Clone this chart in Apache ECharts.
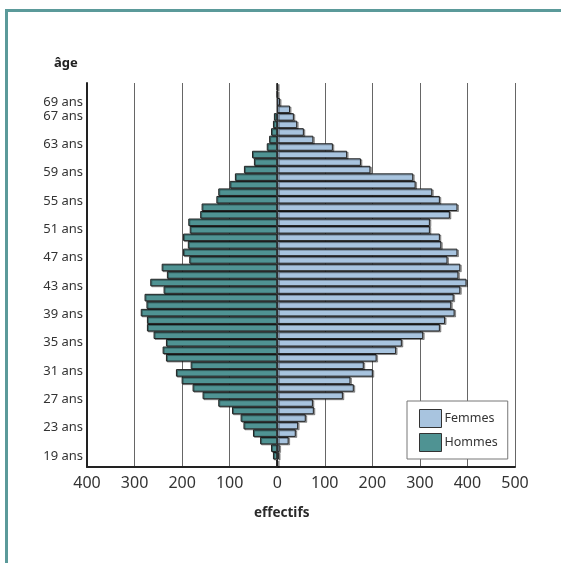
<!DOCTYPE html>
<html>
<head>
<meta charset="utf-8">
<script src="https://cdn.jsdelivr.net/npm/echarts@6/dist/echarts.min.js"></script>
<style>
  html, body { margin: 0; padding: 0; background: #fff; }
  #frame { position: absolute; left: 5px; top: 9px; width: 556px; height: 554px;
           border-top: 3px solid #5b9a9a; border-left: 3px solid #5b9a9a; box-sizing: border-box; }
  #chart { position: absolute; left: 0; top: 0; width: 561px; height: 563px; }
</style>
</head>
<body>
<div id="frame"></div>
<div id="chart"></div>
<script>
// Ages (bottom to top)
const ages = [];
for (let a = 19; a <= 69; a++) ages.push(a + ' ans');

// Hommes (men) counts per age 19..69
const hommes = [2, 9, 13, 36, 51, 71, 77, 95, 124, 157,
                178, 201, 213, 182, 234, 241, 234, 260, 274, 274,
                287, 275, 279, 239, 267, 232, 243, 185, 198, 188,
                198, 184, 187, 162, 159, 128, 124, 100, 89, 70,
                49, 53, 22, 17, 13, 9, 7, 0, 0, 1,
                1];
// Femmes (women) counts per age 19..69
const femmes = [1, 4, 5, 24, 39, 44, 60, 77, 75, 138,
                161, 154, 201, 182, 209, 250, 262, 307, 342, 353,
                373, 366, 371, 385, 398, 381, 385, 358, 379, 345,
                342, 321, 321, 363, 379, 342, 326, 291, 286, 196,
                176, 147, 117, 76, 56, 42, 35, 27, 6, 1,
                1];

// Age tick labels shown on the vertical axis
const ageTicks = [19, 23, 27, 31, 35, 39, 43, 47, 51, 55, 59, 63, 67, 69];
const xTicks = { min: -400, max: 500, interval: 100 };

const chart = echarts.init(document.getElementById('chart'), null, { renderer: 'canvas' });
const font = 'Noto Sans';
const option = {
  backgroundColor: 'transparent',
  animation: false,
  title: [
    { text: 'âge', left: 49, top: 52,
      textStyle: { fontFamily: font, fontSize: 13, fontWeight: 'bold', color: '#222' } },
    { text: 'effectifs', left: 249, top: 501,
      textStyle: { fontFamily: font, fontSize: 13.5, fontWeight: 'bold', color: '#2a2a2a' } }
  ],
  legend: {
    data: ['Femmes', 'Hommes'],
    orient: 'vertical',
    left: 407, top: 401,
    icon: 'rect',
    itemWidth: 22, itemHeight: 18, itemGap: 5,
    padding: [8, 10, 7, 12],
    backgroundColor: '#fff',
    borderColor: '#777', borderWidth: 1,
    itemStyle: { borderColor: '#333', borderWidth: 1 },
    textStyle: { fontFamily: font, fontSize: 12.5, color: '#333', padding: [0, 0, 0, -2] }
  },
  grid: { left: 87, right: 46, top: 83, bottom: 96, containLabel: false },
  xAxis: {
    type: 'value', min: xTicks.min, max: xTicks.max, interval: xTicks.interval,
    axisLine: { show: true, onZero: false, lineStyle: { color: '#222', width: 2 } },
    axisTick: { show: false },
    axisLabel: { formatter: v => String(Math.abs(v)), fontFamily: font, fontSize: 16, color: '#333', margin: 8 },
    splitLine: { show: true, lineStyle: { color: '#666', width: 1 } }
  },
  yAxis: [
    {
      type: 'category', data: ages,
      axisLine: { show: true, onZero: false, lineStyle: { color: '#222', width: 2 } },
      axisTick: { show: false },
      axisLabel: { show: false },
      splitLine: { show: false }
    },
    {
      type: 'value', position: 'left', min: 17.45, max: 71.68,
      axisLine: { show: false, onZero: false },
      axisTick: { show: false },
      splitLine: { show: false },
      axisLabel: { customValues: ageTicks, formatter: '{value} ans',
                   fontFamily: font, fontSize: 13, color: '#333', margin: 4 }
    }
  ],
  series: [
    {
      name: 'Hommes', type: 'bar', stack: 'pyr', yAxisIndex: 0,
      barCategoryGap: '0%',
      data: hommes.map(v => -v),
      itemStyle: { color: '#4f9393', borderColor: '#222', borderWidth: 1,
                   shadowColor: 'rgba(0,0,0,0.35)', shadowOffsetX: 1, shadowOffsetY: 1, shadowBlur: 0 }
    },
    {
      name: 'Femmes', type: 'bar', stack: 'pyr', yAxisIndex: 0,
      barCategoryGap: '0%',
      data: femmes,
      itemStyle: { color: '#a8c4df', borderColor: '#222', borderWidth: 1,
                   shadowColor: 'rgba(0,0,0,0.35)', shadowOffsetX: 1.5, shadowOffsetY: 1, shadowBlur: 0 }
    }
  ]
};
chart.setOption(option);
</script>
</body>
</html>
